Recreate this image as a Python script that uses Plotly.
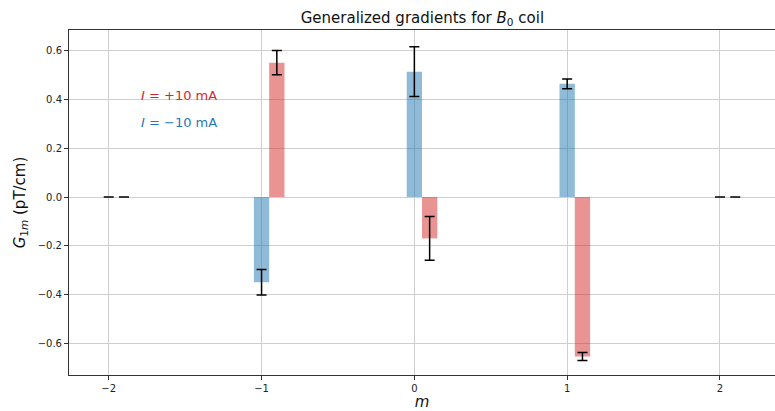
import plotly.graph_objects as go

# Multipole index m and measured generalized gradients G_1m (pT/cm)
m_values = [-2, -1, 0, 1, 2]
g_minus = [0.0, -0.35, 0.515, 0.465, 0.0]      # I = -10 mA
g_minus_err = [0.0, 0.052, 0.102, 0.02, 0.0]
g_plus = [0.0, 0.552, -0.17, -0.655, 0.0]      # I = +10 mA
g_plus_err = [0.0, 0.05, 0.09, 0.016, 0.0]

bar_width = 0.1
x_minus = [m for m in m_values]
x_plus = [m + bar_width for m in m_values]

font_family = "DejaVu Sans"
blue = "rgba(31,119,180,0.5)"
red = "rgba(214,39,40,0.5)"

err_style = dict(type="data", color="black", thickness=1.5, width=5, visible=True)

fig = go.Figure()
fig.add_trace(go.Bar(
    x=x_minus, y=g_minus, width=bar_width, marker=dict(color=blue, line=dict(width=0)),
    error_y=dict(array=g_minus_err, **err_style), name="I = -10 mA", showlegend=False,
))
fig.add_trace(go.Bar(
    x=x_plus, y=g_plus, width=bar_width, marker=dict(color=red, line=dict(width=0)),
    error_y=dict(array=g_plus_err, **err_style), name="I = +10 mA", showlegend=False,
))

fig.add_annotation(x=-1.8, y=0.418, xref="x", yref="y", text="<i>I</i> = +10 mA",
                   showarrow=False, xanchor="left", yanchor="middle",
                   font=dict(family=font_family, size=13, color="#d62728"))
fig.add_annotation(x=-1.8, y=0.305, xref="x", yref="y", text="<i>I</i> = −10 mA",
                   showarrow=False, xanchor="left", yanchor="middle",
                   font=dict(family=font_family, size=13, color="#1f77b4"))

axis_common = dict(
    showgrid=True, gridcolor="#cfcfcf", gridwidth=1, zeroline=False,
    showline=True, linecolor="#333333", linewidth=1,
    ticks="outside", ticklen=4, tickcolor="#333333",
    tickfont=dict(family=font_family, size=10, color="#222222"),
)

fig.update_layout(
    width=775, height=411,
    margin=dict(l=69, r=0, t=30, b=36),
    plot_bgcolor="white", paper_bgcolor="white",
    barmode="overlay",
    title=dict(text="Generalized gradients for <i>B</i><sub>0</sub> coil",
               x=0.545, xanchor="center", y=1 - 18 / 411, yanchor="middle",
               font=dict(family=font_family, size=15, color="#111111")),
    xaxis=dict(range=[-2.26, 2.36], tickvals=m_values, mirror=True,
               title=dict(text="<i>m</i>", standoff=4,
                          font=dict(family=font_family, size=15, color="#111111")),
               **axis_common),
    yaxis=dict(range=[-0.731, 0.686], tickvals=[-0.6, -0.4, -0.2, 0.0, 0.2, 0.4, 0.6],
               tickformat=".1f", mirror=False,
               title=dict(text="<i>G</i><sub>1<i>m</i></sub> (pT/cm)", standoff=8,
                          font=dict(family=font_family, size=15, color="#111111")),
               **axis_common),
)

fig.write_html("out.html")
